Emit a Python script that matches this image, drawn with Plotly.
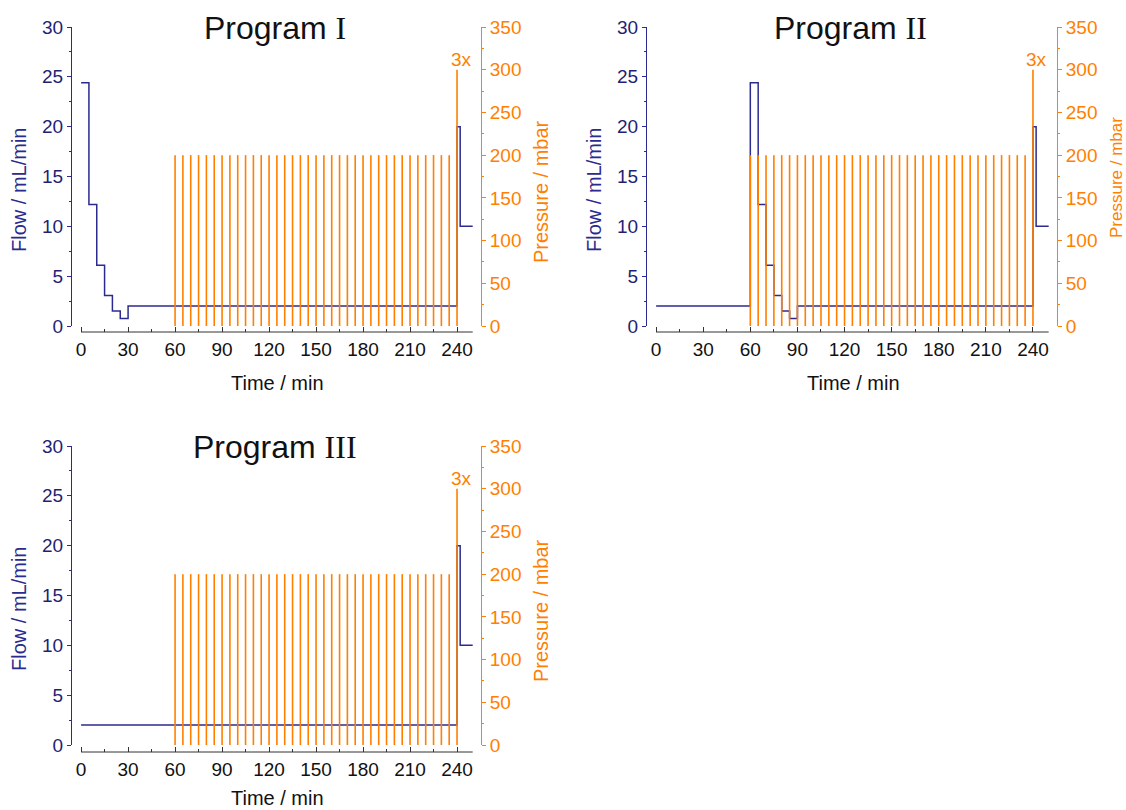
import plotly.graph_objects as go

# ---------------- data ----------------
time_I = [0, 5, 10, 15, 20, 25, 30, 240, 242, 250]
flow_I = [24.4, 12.2, 6.1, 3.05, 1.5, 0.75, 2.0, 20.0, 10.0, 10.0]

time_II = [0, 60, 65, 70, 75, 80, 85, 90, 240, 242, 250]
flow_II = [2.0, 24.4, 12.2, 6.1, 3.05, 1.5, 0.75, 2.0, 20.0, 10.0, 10.0]

time_III = [0, 240, 242, 250]
flow_III = [2.0, 20.0, 10.0, 10.0]

pulse_times = [60, 65, 70, 75, 80, 85, 90, 95, 100, 105, 110, 115, 120, 125,
               130, 135, 140, 145, 150, 155, 160, 165, 170, 175, 180, 185,
               190, 195, 200, 205, 210, 215, 220, 225, 230, 235, 240]
pulse_mbar = [200, 200, 200, 200, 200, 200, 200, 200, 200, 200, 200, 200,
              200, 200, 200, 200, 200, 200, 200, 200, 200, 200, 200, 200,
              200, 200, 200, 200, 200, 200, 200, 200, 200, 200, 200, 200, 300]

x_tickvals = [0, 30, 60, 90, 120, 150, 180, 210, 240]
x_minorvals = [15, 45, 75, 105, 135, 165, 195, 225]
program_numerals = ["I", "II", "III"]
burst_label = "3x"

# ---------------- style / layout ----------------
W, H = 1126, 810
NAVY = "#2b2b8f"
NAVY_TXT = "#1f1f75"
ORANGE = "#ff7f00"
SANS = "Liberation Sans, Arial, sans-serif"
SERIF = "Liberation Serif, Times New Roman, serif"
XRANGE = [-5.8, 255.3]

# pixel boxes: left axis x, right axis x, top (y=30), bottom (y=0), x-axis line y,
# right-title (x, y centre, font size), x-title offset below bottom
panels = [
    dict(L=72, R=481, T=27, B=326, XL=332, RT=(541, 192, 20), XT=57,
         data=(time_I, flow_I)),
    dict(L=647, R=1057, T=27, B=326, XL=332, RT=(1116, 178, 17), XT=57,
         data=(time_II, flow_II)),
    dict(L=72, R=481, T=446, B=745, XL=752, RT=(541, 611, 20), XT=53,
         data=(time_III, flow_III)),
]

def px_x(v):
    return v / W

def px_y(v):
    return 1 - v / H

fig = go.Figure()
annotations = []
shapes = []
layout = {}

for i, p in enumerate(panels):
    n = i + 1
    xk = "x" if n == 1 else f"x{n}"
    yl = "y" if n == 1 else f"y{2*n-1}"
    yr = f"y{2*n}"
    xname = "xaxis" if n == 1 else f"xaxis{n}"
    ylname = "yaxis" if n == 1 else f"yaxis{2*n-1}"
    yrname = f"yaxis{2*n}"

    # pressure pulses
    px, py = [], []
    for t, m in zip(pulse_times, pulse_mbar):
        px += [t, t, None]
        py += [0, m, None]
    fig.add_trace(go.Scatter(x=px, y=py, mode="lines",
                             line=dict(color=ORANGE, width=1.6),
                             xaxis=xk, yaxis=yr, showlegend=False,
                             hoverinfo="skip"))
    # flow steps
    tx, fy = p["data"]
    fig.add_trace(go.Scatter(x=tx, y=fy, mode="lines", line_shape="hv",
                             line=dict(color=NAVY, width=1.5),
                             xaxis=xk, yaxis=yl, showlegend=False))

    ydom = [px_y(p["B"]), px_y(p["T"])]
    layout[xname] = dict(
        domain=[px_x(p["L"]), px_x(p["R"])], range=XRANGE,
        anchor="free", position=px_y(p["XL"]),
        showline=False, showgrid=False, zeroline=False, automargin=False,
        tickvals=x_tickvals, ticks="inside", ticklen=5, tickwidth=1,
        tickcolor="#333333",
        tickfont=dict(family=SANS, size=19, color="#111111"),
        ticklabelstandoff=4,
        minor=dict(tickvals=x_minorvals, ticks="inside", ticklen=3,
                   tickcolor="#333333", showgrid=False),
    )
    layout[ylname] = dict(
        domain=ydom, range=[0, 30], anchor=xk, automargin=False,
        showline=True, linecolor=NAVY, linewidth=1,
        showgrid=False, zeroline=False,
        dtick=5, ticks="outside", ticklen=4, tickcolor=NAVY,
        tickfont=dict(family=SANS, size=19, color=NAVY_TXT),
        minor=dict(dtick=2.5, ticks="outside", ticklen=2, tickcolor=NAVY,
                   showgrid=False),
    )
    layout[yrname] = dict(
        range=[0, 350], overlaying=yl, side="right", anchor=xk,
        automargin=False,
        showline=True, linecolor=ORANGE, linewidth=1,
        showgrid=False, zeroline=False,
        dtick=50, ticks="outside", ticklen=4, tickcolor=ORANGE,
        tickfont=dict(family=SANS, size=19, color=ORANGE),
        minor=dict(dtick=25, ticks="outside", ticklen=2, tickcolor=ORANGE,
                   showgrid=False),
    )

    # x-axis base line (0 .. 250)
    shapes.append(dict(type="line", xref=xk, yref="paper",
                       x0=0, x1=250, y0=px_y(p["XL"]), y1=px_y(p["XL"]),
                       line=dict(color="#333333", width=1)))

    cx = (p["L"] + p["R"]) / 2
    # panel title
    annotations.append(dict(
        xref="paper", yref="paper", x=px_x(cx - 2), y=px_y(p["T"] + 1),
        xanchor="center", yanchor="middle", showarrow=False,
        text=f"Program <span style='font-family:{SERIF}'>{program_numerals[i]}</span>",
        font=dict(family=SANS, size=32, color="#111111")))
    # x title
    annotations.append(dict(
        xref="paper", yref="paper", x=px_x(cx + 1), y=px_y(p["B"] + p["XT"]),
        xanchor="center", yanchor="middle", showarrow=False,
        text="Time / min", font=dict(family=SANS, size=20, color="#111111")))
    # left title
    annotations.append(dict(
        xref="paper", yref="paper", x=px_x(p["L"] - 53), y=px_y(p["T"] + 163),
        xanchor="center", yanchor="middle", showarrow=False, textangle=-90,
        text="Flow / mL/min", font=dict(family=SANS, size=20, color=NAVY)))
    # right title
    rx, ry, rs = p["RT"]
    annotations.append(dict(
        xref="paper", yref="paper", x=px_x(rx), y=px_y(ry),
        xanchor="center", yanchor="middle", showarrow=False, textangle=-90,
        text="Pressure / mbar", font=dict(family=SANS, size=rs, color=ORANGE)))
    # 3x label
    annotations.append(dict(
        xref=xk, yref=yr, x=pulse_times[-1], y=pulse_mbar[-1],
        xanchor="center", yanchor="bottom", xshift=4, yshift=-2,
        showarrow=False, text=burst_label,
        font=dict(family=SANS, size=19, color=ORANGE)))

fig.update_layout(
    width=W, height=H,
    margin=dict(l=0, r=0, t=0, b=0, autoexpand=False),
    paper_bgcolor="white", plot_bgcolor="rgba(0,0,0,0)",
    annotations=annotations, shapes=shapes,
    **layout,
)

fig.write_html(
    "out.html",
    config={"displayModeBar": False},
    post_script="document.body.style.margin='0px';document.body.style.overflow='hidden';",
)
